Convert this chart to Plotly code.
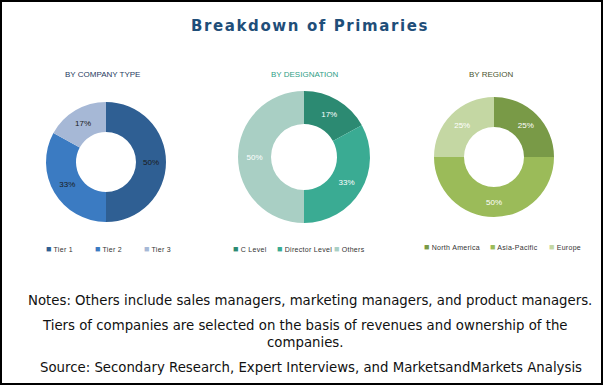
import plotly.graph_objects as go

W, H = 603, 385

# ---- data ----
company_labels = ["Tier 1", "Tier 2", "Tier 3"]
company_values = [50, 33, 17]
designation_labels = ["C Level", "Director Level", "Others"]
designation_values = [17, 33, 50]
region_labels = ["North America", "Asia-Pacific", "Europe"]
region_values = [25, 50, 25]

chart_title = "Breakdown of Primaries"
sub_titles = ["BY COMPANY TYPE", "BY DESIGNATION", "BY REGION"]
notes = [
    "Notes: Others include sales managers, marketing managers, and product managers.",
    "Tiers of companies are selected on the basis of revenues and ownership of the<br>companies.",
    "Source: Secondary Research, Expert Interviews, and MarketsandMarkets Analysis",
]

# ---- styles ----
company_colors = ["#2f5f93", "#3b7bc2", "#a6b8d6"]
designation_colors = ["#2c8a72", "#3aab93", "#a9cfc4"]
region_colors = ["#799a47", "#9bbb59", "#c4d7a3"]
title_colors = ["#1f3a60", "#2f9e86", "#4a5530"]


def px_x(x):
    return x / W


def px_y(y):
    return 1 - y / H


def dom(cx, cy, r):
    return dict(x=[px_x(cx - r), px_x(cx + r)], y=[px_y(cy + r), px_y(cy - r)])


pies = [
    (company_labels, company_values, company_colors, dom(106, 162, 60), "#1a1a1a"),
    (designation_labels, designation_values, designation_colors, dom(304, 157, 66), "white"),
    (region_labels, region_values, region_colors, dom(494, 157, 60), "white"),
]

fig = go.Figure()
for labels, values, colors, d, tc in pies:
    fig.add_trace(go.Pie(
        labels=labels, values=values, hole=0.5, sort=False, direction="clockwise",
        rotation=0, domain=d, marker=dict(colors=colors, line=dict(width=0)),
        textinfo="percent", texttemplate="%{percent:.0%}", textposition="inside",
        insidetextorientation="horizontal",
        textfont=dict(family="Liberation Sans, Arial", size=8, color=tc),
        showlegend=False, hoverinfo="label+percent",
    ))

ann = []
ann.append(dict(text="<span style='letter-spacing:1.6px'><b>" + chart_title + "</b></span>",
                x=px_x(310), y=px_y(26), xref="paper", yref="paper",
                showarrow=False, font=dict(family="DejaVu Sans", size=15, color="#1f4e79"),
                xanchor="center", yanchor="middle"))

for t, cx, col in zip(sub_titles, [102, 304, 492], title_colors):
    ann.append(dict(text=t, x=px_x(cx), y=px_y(75), xref="paper", yref="paper", showarrow=False,
                    font=dict(family="Liberation Sans, Arial", size=8, color=col),
                    xanchor="center", yanchor="middle"))

# legends (marker x positions)
legend_specs = [
    (company_labels, company_colors, [48, 97, 146], 249),
    (designation_labels, designation_colors, [235, 279, 336], 249),
    (region_labels, region_colors, [426, 492, 551], 247),
]
for labels, colors, xs, ly in legend_specs:
    for lab, col, x in zip(labels, colors, xs):
        ann.append(dict(text=f"<span style='color:{col};font-size:9px'>■</span><span style='letter-spacing:0.3px'> {lab}</span>",
                        x=px_x(x - 4), y=px_y(ly),
                        xref="paper", yref="paper", showarrow=False,
                        font=dict(family="Liberation Sans, Arial", size=7, color="#333333"),
                        xanchor="left", yanchor="middle"))

note_pos = [(310, 300), (305, 334), (311, 367)]
for t, (x, y) in zip(notes, note_pos):
    ann.append(dict(text=t, x=px_x(x), y=px_y(y), xref="paper", yref="paper", showarrow=False,
                    font=dict(family="DejaVu Sans", size=13.3, color="#111111"),
                    xanchor="center", yanchor="middle", align="center"))

fig.update_layout(
    width=W, height=H, margin=dict(l=0, r=0, t=0, b=0),
    paper_bgcolor="white", plot_bgcolor="white",
    annotations=ann,
    shapes=[dict(type="rect", xref="paper", yref="paper", x0=px_x(1), x1=px_x(W - 1),
                 y0=px_y(H - 1), y1=px_y(1), line=dict(color="black", width=2))],
)

fig.write_html("out.html", config={"displayModeBar": False},
               post_script="document.body.style.margin='0';document.body.style.overflow='hidden';")
